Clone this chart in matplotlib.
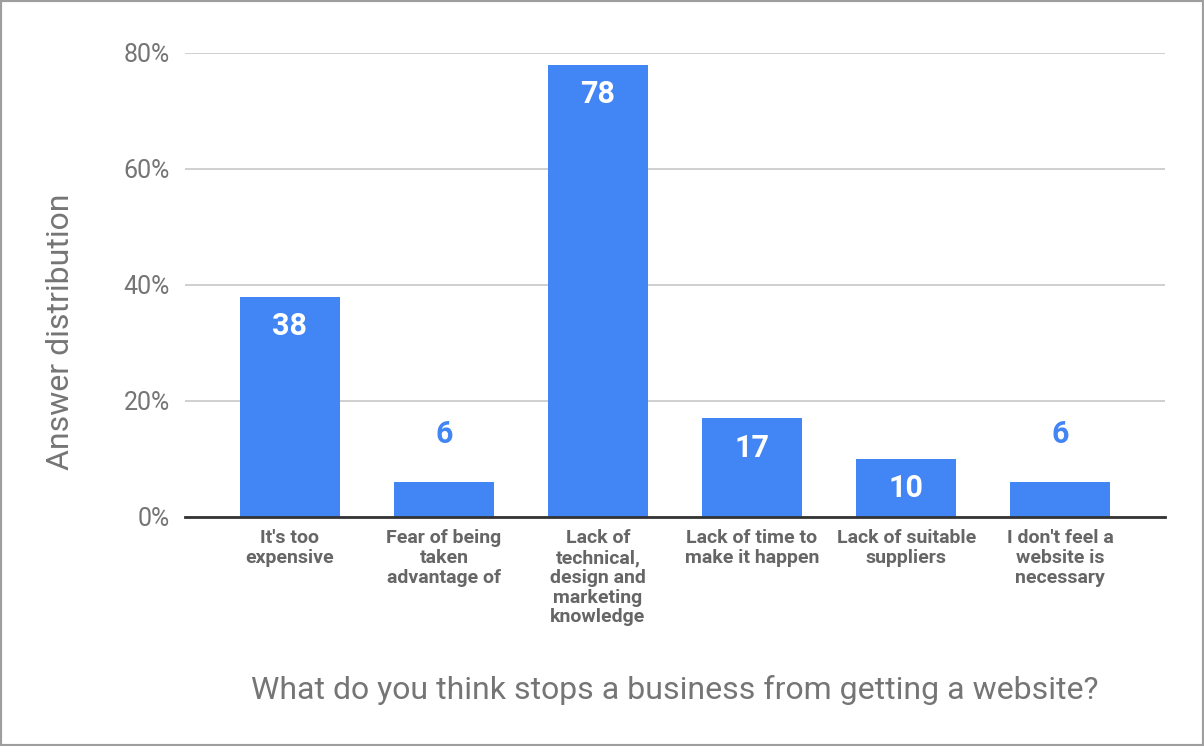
import matplotlib.pyplot as plt
from matplotlib.patches import Rectangle

plt.rcParams['font.family'] = ['Roboto', 'DejaVu Sans']

# data
categories = ["It's too\nexpensive", "Fear of being\ntaken\nadvantage of",
              "Lack of\ntechnical,\ndesign and\nmarketing\nknowledge",
              "Lack of time to\nmake it happen", "Lack of suitable\nsuppliers",
              "I don't feel a\nwebsite is\nnecessary"]
values = [38, 6, 78, 17, 10, 6]
yticks = [0, 20, 40, 60, 80]

blue = '#4285F4'

fig = plt.figure(figsize=(12.04, 7.46), dpi=100)
ax = fig.add_axes([0.1537, 0.3070, 0.8139, 0.6220])

x = range(len(values))
ax.bar(x, values, width=0.65, color=blue, zorder=3)

# value labels: inside the bar when it fits, above otherwise
for i, v in enumerate(values):
    if v >= 8:
        ax.annotate(str(v), (i, v), xytext=(0, -21), textcoords='offset points',
                    ha='center', va='center', color='white', fontsize=22,
                    fontweight='bold', zorder=4)
    else:
        ax.annotate(str(v), (i, v), xytext=(0, 35), textcoords='offset points',
                    ha='center', va='center', color=blue, fontsize=22,
                    fontweight='bold', zorder=4)

ax.set_xlim(-0.68, len(values) - 1 + 0.68)
ax.set_ylim(0, 80)
ax.set_yticks(yticks)
ax.set_yticklabels([f'{t}%' for t in yticks])
ax.set_xticks(list(x))
ax.set_xticklabels(categories, fontsize=14, fontweight='bold', color='#666666',
                   linespacing=1.12, va='top')

ax.tick_params(axis='y', length=0, pad=11, labelsize=18, labelcolor='#757575')
ax.tick_params(axis='x', length=0, pad=9)

ax.grid(axis='y', color='#cccccc', linewidth=1.3, zorder=0)
for s in ['top', 'right', 'left']:
    ax.spines[s].set_visible(False)
ax.spines['bottom'].set_color('#333333')
ax.spines['bottom'].set_linewidth(2)
ax.spines['bottom'].set_zorder(5)

ax.set_ylabel('Answer distribution', fontsize=23, color='#757575')
ax.yaxis.set_label_coords(-0.1122, 0.399)
fig.text(0.5607, 0.075, 'What do you think stops a business from getting a website?',
         ha='center', va='center', fontsize=23, color='#757575')

# outer frame
fig.patches.append(Rectangle((0, 0), 1, 1, transform=fig.transFigure, fill=False,
                             edgecolor='#9e9e9e', linewidth=3))

fig.savefig('out.png', dpi=100)
